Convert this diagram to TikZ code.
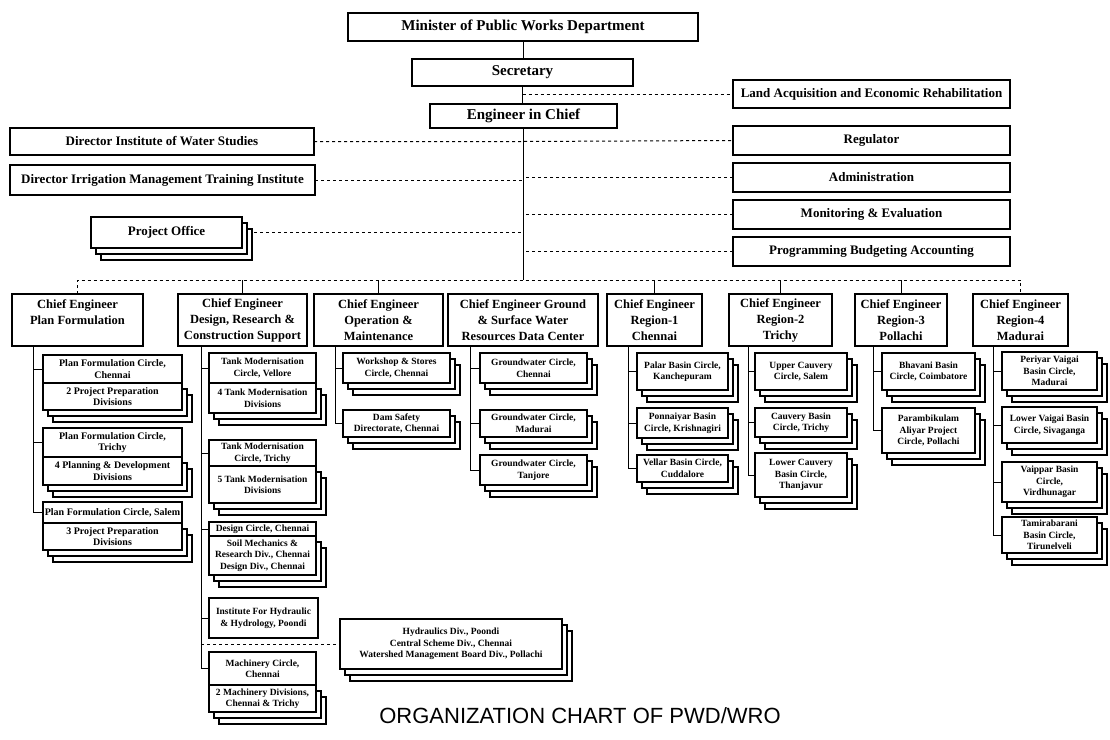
\documentclass[tikz,border=0pt]{standalone}
\usepackage{fontspec}
\setmainfont{Liberation Serif}
\newfontfamily\titlefont{Liberation Sans}
\usetikzlibrary{shadows}
\pgfdeclarelayer{paper}
\pgfdeclarelayer{lines}
\pgfsetlayers{paper,lines,main}
\newcommand\orgbox[8][]{%
  \pgfmathsetmacro\orgW{#6-#4}\pgfmathsetmacro\orgH{#7-#5}%
  \pgfmathsetmacro\orgX{(#4+#6)/2}\pgfmathsetmacro\orgY{(#5+#7)/2}%
  \node[#2,#1,minimum width=\orgW pt,minimum height=\orgH pt] (#3) at (\orgX,\orgY) {#8};}
\begin{document}
\begin{tikzpicture}[x=1pt,y=-1pt,
  box/.style={draw, line width=1.2pt, fill=white, align=center, inner xsep=1pt, inner ysep=0.5pt, outer sep=0pt},
  topbox/.style={box, font=\bfseries\fontsize{15}{17}\selectfont},
  staffbox/.style={box, font=\bfseries\fontsize{13}{15}\selectfont},
  cebox/.style={box, font=\bfseries\fontsize{12.5}{16}\selectfont},
  subbox/.style={box, font=\bfseries\fontsize{9.5}{11.5}\selectfont},
  pfbox/.style={box, font=\bfseries\fontsize{10}{11.5}\selectfont},
  stacked/.style={copy shadow={shadow xshift=10pt,shadow yshift=-12pt},
                  copy shadow={shadow xshift=5pt,shadow yshift=-6pt}},
  link/.style={line width=1pt},
  staffline/.style={line width=1pt, dashed}]
\begin{pgfonlayer}{paper}
\fill[white] (0,0) rectangle (1110,739);
\end{pgfonlayer}
\useasboundingbox (0,0) rectangle (1110,739);

% top hierarchy
\orgbox{topbox}{min}{348}{13}{698}{41}{Minister of Public Works Department}
\orgbox{topbox}{sec}{412}{59}{633}{86}{Secretary}
\orgbox{topbox}{eic}{430}{104}{617}{128}{Engineer in Chief}

% staff units right
\orgbox{staffbox}{land}{733}{80}{1010}{108}{Land Acquisition and Economic Rehabilitation}
\orgbox{staffbox}{reg}{733}{126}{1010}{155}{Regulator}
\orgbox{staffbox}{adm}{733}{163}{1010}{192}{Administration}
\orgbox{staffbox}{mon}{733}{200}{1010}{229}{Monitoring \& Evaluation}
\orgbox{staffbox}{prog}{733}{237}{1010}{266}{Programming Budgeting Accounting}

% staff units left
\orgbox{staffbox}{iws}{10}{128}{314}{155}{Director Institute of Water Studies}
\orgbox{staffbox}{imti}{10}{165}{315}{195}{Director Irrigation Management Training Institute}
\orgbox[stacked]{staffbox}{po}{91}{217}{242}{248}{Project Office}

% chief engineers
\orgbox{cebox}{ce1}{12}{294}{143}{346}{Chief Engineer\\Plan Formulation\\\mbox{}}
\orgbox{cebox}{ce2}{178}{294}{307}{346}{Chief Engineer\\Design, Research \&\\Construction Support}
\orgbox{cebox}{ce3}{314}{294}{443}{346}{Chief Engineer\\Operation \&\\Maintenance}
\orgbox{cebox}{ce4}{448}{294}{598}{346}{Chief Engineer Ground\\\& Surface Water\\Resources Data Center}
\orgbox{cebox}{ce5}{607}{294}{702}{346}{Chief Engineer\\Region-1\\Chennai}
\orgbox{cebox}{ce6}{729}{294}{832}{346}{Chief Engineer\\Region-2\\Trichy}
\orgbox{cebox}{ce7}{855}{294}{947}{346}{Chief Engineer\\Region-3\\Pollachi}
\orgbox{cebox}{ce8}{973}{294}{1068}{346}{Chief Engineer\\Region-4\\Madurai}

% column 1
\orgbox{pfbox}{g1a}{43}{355}{182}{383}{Plan Formulation Circle,\\Chennai}
\orgbox[stacked]{pfbox}{g1b}{43}{383}{182}{410}{2 Project Preparation\\Divisions}
\orgbox{pfbox}{g2a}{43}{428}{182}{457}{Plan Formulation Circle,\\Trichy}
\orgbox[stacked]{pfbox}{g2b}{43}{457}{182}{485}{4 Planning \& Development\\Divisions}
\orgbox{pfbox}{g3a}{43}{502}{182}{523}{Plan Formulation Circle, Salem}
\orgbox[stacked]{pfbox}{g3b}{43}{523}{182}{550}{3 Project Preparation\\Divisions}

% column 2
\orgbox{subbox}{d1a}{209}{353}{316}{383}{Tank Modernisation\\Circle, Vellore}
\orgbox[stacked]{subbox}{d1b}{209}{383}{316}{413}{4 Tank Modernisation\\Divisions}
\orgbox{subbox}{d2a}{209}{440}{316}{466}{Tank Modernisation\\Circle, Trichy}
\orgbox[stacked]{subbox}{d2b}{209}{466}{316}{503}{5 Tank Modernisation\\Divisions}
\orgbox{subbox}{d3a}{209}{522}{316}{536}{Design Circle, Chennai}
\orgbox[stacked]{subbox}{d3b}{209}{536}{316}{575}{Soil Mechanics \&\\Research Div., Chennai\\Design Div., Chennai}
\orgbox{subbox}{d4}{209}{598}{318}{638}{Institute For Hydraulic\\\& Hydrology, Poondi}
\orgbox[stacked]{subbox}{side}{340}{619}{562}{669}{Hydraulics Div., Poondi\\Central Scheme Div., Chennai\\Watershed Management Board Div., Pollachi}
\orgbox{subbox}{d5a}{209}{652}{316}{685}{Machinery Circle,\\Chennai}
\orgbox[stacked]{subbox}{d5b}{209}{685}{316}{712}{2 Machinery Divisions,\\Chennai \& Trichy}

% column 3
\orgbox[stacked]{subbox}{o1}{343}{353}{450}{383}{Workshop \& Stores\\Circle, Chennai}
\orgbox[stacked]{subbox}{o2}{343}{410}{450}{437}{Dam Safety\\Directorate, Chennai}

% column 4
\orgbox[stacked]{subbox}{w1}{480}{353}{587}{383}{Groundwater Circle,\\Chennai}
\orgbox[stacked]{subbox}{w2}{480}{410}{587}{437}{Groundwater Circle,\\Madurai}
\orgbox[stacked]{subbox}{w3}{480}{455}{587}{485}{Groundwater Circle,\\Tanjore}

% column 5
\orgbox[stacked]{subbox}{r11}{637}{353}{728}{390}{Palar Basin Circle,\\Kanchepuram}
\orgbox[stacked]{subbox}{r12}{637}{408}{728}{438}{Ponnaiyar Basin\\Circle, Krishnagiri}
\orgbox[stacked]{subbox}{r13}{637}{455}{728}{482}{Vellar Basin Circle,\\Cuddalore}

% column 6
\orgbox[stacked]{subbox}{r21}{755}{353}{847}{390}{Upper Cauvery\\Circle, Salem}
\orgbox[stacked]{subbox}{r22}{755}{408}{847}{437}{Cauvery Basin\\Circle, Trichy}
\orgbox[stacked]{subbox}{r23}{755}{453}{847}{497}{Lower Cauvery\\Basin Circle,\\Thanjavur}

% column 7
\orgbox[stacked]{subbox}{r31}{882}{353}{975}{390}{Bhavani Basin\\Circle, Coimbatore}
\orgbox[stacked]{subbox}{r32}{882}{408}{975}{453}{Parambikulam\\Aliyar Project\\Circle, Pollachi}

% column 8
\orgbox[stacked]{subbox}{r41}{1002}{352}{1097}{390}{Periyar Vaigai\\Basin Circle,\\Madurai}
\orgbox[stacked]{subbox}{r42}{1002}{407}{1097}{443}{Lower Vaigai Basin\\Circle, Sivaganga}
\orgbox[stacked]{subbox}{r43}{1002}{462}{1097}{502}{Vaippar Basin\\Circle,\\Virdhunagar}
\orgbox[stacked]{subbox}{r44}{1002}{517}{1097}{553}{Tamirabarani\\Basin Circle,\\Tirunelveli}

% title
\node[font=\titlefont\fontsize{22}{24}\selectfont, inner sep=0pt] (title) at (580,716) {ORGANIZATION CHART OF PWD/WRO};

% column line tops
\coordinate (bus) at (0,280);
\coordinate (k1) at (33,346);
\coordinate (k2) at (201,346);
\coordinate (k3) at (335,346);
\coordinate (k4) at (470,346);
\coordinate (k5) at (628,346);
\coordinate (k6) at (748,346);
\coordinate (k7) at (873,346);
\coordinate (k8) at (993,346);

\begin{pgfonlayer}{lines}
% main line
\draw[link] (min.south) -- (min.south |- sec.north);
\draw[link] (sec.south) -- (sec.south |- eic.north);
\draw[link] (eic.south) -- (eic.south |- bus);
% staff connections
\draw[staffline] (sec.south |- land.west) -- (land.west);
\draw[staffline] (iws.east) -- (iws.east -| eic.south) -- (reg.west);
\draw[staffline] (imti.east) -- (imti.east -| eic.south);
\draw[staffline] (adm.west) -- (adm.west -| eic.south);
\draw[staffline] (mon.west) -- (mon.west -| eic.south);
\draw[staffline] (po.east) -- (po.east -| eic.south);
\draw[staffline] (prog.west) -- (prog.west -| eic.south);
% bus to chief engineers
\draw[staffline] (ce1.north) |- (ce8.north |- bus) -- (ce8.north);
\foreach \c in {ce2,ce3,ce5,ce6,ce7}{\draw[link] (\c.north) -- (\c.north |- bus);}
% column 1
\draw[link] (k1) |- (g3a.west);
\draw[link] (k1 |- g1a.west) -- (g1a.west);
\draw[link] (k1 |- g2a.west) -- (g2a.west);
% column 2
\draw[link] (k2) |- (d5a.west);
\foreach \b in {d1a,d2a,d3a,d4}{\draw[link] (k2 |- \b.west) -- (\b.west);}
\draw[staffline] (k2 |- side.west) -- (side.west);
% column 3
\draw[link] (k3) |- (o2.west);
\draw[link] (k3 |- o1.west) -- (o1.west);
% column 4
\draw[link] (k4) |- (w3.west);
\foreach \b in {w1,w2}{\draw[link] (k4 |- \b.west) -- (\b.west);}
% column 5
\draw[link] (k5) |- (r13.west);
\foreach \b in {r11,r12}{\draw[link] (k5 |- \b.west) -- (\b.west);}
% column 6
\draw[link] (k6) |- (r23.west);
\foreach \b in {r21,r22}{\draw[link] (k6 |- \b.west) -- (\b.west);}
% column 7
\draw[link] (k7) |- (r32.west);
\draw[link] (k7 |- r31.west) -- (r31.west);
% column 8
\draw[link] (k8) |- (r44.west);
\foreach \b in {r41,r42,r43}{\draw[link] (k8 |- \b.west) -- (\b.west);}
\end{pgfonlayer}
\end{tikzpicture}
\end{document}
